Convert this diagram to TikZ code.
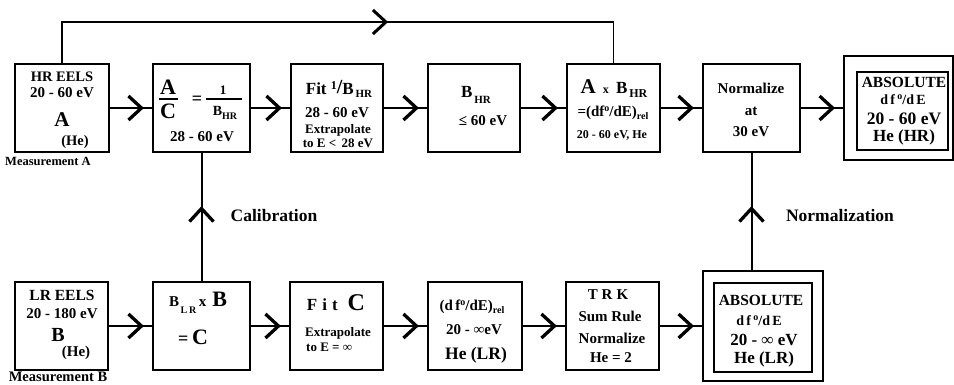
\documentclass[tikz,border=0pt]{standalone}
\usepackage{fontspec}
\setmainfont{Liberation Serif}
\usetikzlibrary{arrows.meta,decorations.markings}
\newcommand{\fsz}[1]{\fontsize{#1}{#1}\selectfont}
\tikzset{
  box/.style={draw, line width=2.2pt, inner sep=0pt},
  tx/.style={inner sep=0pt, font=\bfseries\fsz{#1}},
  tx/.default=15,
  conn/.style={line width=2pt, postaction={decorate, decoration={markings,
      mark=at position #1 with {\arrow{Straight Barb[length=13pt,width=24pt,line width=3.3pt]}}}}},
  conn/.default=-8pt,
  loopline/.style={line width=1.6pt, postaction={decorate, decoration={markings,
      mark=at position 367pt with {\arrow{Straight Barb[length=13pt,width=24pt,line width=3pt]}}}}},
  fracbar/.style={line width=#1},
}
\begin{document}
\begin{tikzpicture}[x=1pt,y=-1pt]
\useasboundingbox (0,0) rectangle (954,384);
% ---- top row boxes
\node[box, minimum width=94pt, minimum height=88pt] (n1) at (62,108) {};
\node[box, minimum width=97pt, minimum height=88pt] (n2) at (201.5,108) {};
\node[box, minimum width=92pt, minimum height=88pt] (n3) at (337,108) {};
\node[box, minimum width=92pt, minimum height=88pt] (n4) at (474,108) {};
\node[box, minimum width=93pt, minimum height=88pt] (n5) at (613.5,108) {};
\node[box, minimum width=97pt, minimum height=88pt] (n6) at (751.5,108) {};
\node[box, line width=2pt, minimum width=109pt, minimum height=104pt] (n7o) at (898.5,108) {};
\node[box, line width=2.5pt, minimum width=91pt, minimum height=78pt] (n7i) at (902.5,111) {};
% ---- bottom row boxes
\node[box, minimum width=93pt, minimum height=88pt] (m1) at (61.5,326) {};
\node[box, minimum width=97pt, minimum height=88pt] (m2) at (201.5,326) {};
\node[box, minimum width=93pt, minimum height=88pt] (m3) at (336.5,326) {};
\node[box, minimum width=94pt, minimum height=88pt] (m4) at (475,326) {};
\node[box, minimum width=93pt, minimum height=88pt] (m5) at (612.5,326) {};
\node[box, line width=2pt, minimum width=120pt, minimum height=110pt] (m6o) at (763,326) {};
\node[box, line width=2.5pt, minimum width=98pt, minimum height=89pt] (m6i) at (763,327.5) {};
% ---- connectors
\draw[conn] (n1) -- (n2);
\draw[conn] (n2) -- (n3);
\draw[conn] (n3) -- (n4);
\draw[conn] (n4) -- (n5);
\draw[conn] (n5) -- (n6);
\draw[conn] (n6) -- (n7o);
\draw[conn] (m1) -- (m2);
\draw[conn] (m2) -- (m3);
\draw[conn] (m3) -- (m4);
\draw[conn] (m4) -- (m5);
\draw[conn] (m5) -- (m6o);
\draw[conn=-53pt] (m2) -- (n2);
\draw[conn=-53pt] (n6 |- m6o.north) -- (n6.south);
\coordinate (tp) at (0,22);
\draw[loopline] (n1.north) -- (n1.north |- tp) -- (n5.north |- tp) -- (n5.north);
% ---- labels
\node[tx=17.5] (cal) at (274,216) {Calibration};
\node[tx=17.5] (nrm) at (840,216) {Normalization};
\node[tx=12.5] (mA) at (48,161) {Measurement A};
\node[tx=14.5] (mB) at (58,377) {Measurement B};
% n1
\node[tx=14.5] (n1a) at (62,77) {HR EELS};
\node[tx=15] (n1b) at (62,93) {20 - 60 eV};
\node[tx=21] (n1c) at (62,120) {A};
\node[tx=14.5] (n1d) at (75,142) {(He)};
% n2
\node[tx=22] (n2a) at (168,87) {A};
\node[tx=22] (n2b) at (168,111) {C};
\draw[fracbar=2.2pt] (159,99) -- (178,99);
\node[tx=18] (n2c) at (197,100) {=};
\node[tx=13] (n2d) at (223,90) {1};
\draw[fracbar=1.3pt] (206,99) -- (242,99);
\node[tx=14] (n2e) at (225,113) {B\raisebox{-4pt}{\fsz{10}HR}};
\node[tx=15] (n2f) at (202,137) {28 - 60 eV};
% n3
\node[tx=17] (n3a) at (339,89) {Fit \raisebox{5pt}{\fsz{12}1}\raisebox{1pt}{\fsz{20}/}B\raisebox{-3pt}{\fsz{11}\,HR}};
\node[tx=15] (n3b) at (337,112.5) {28 - 60 eV};
\node[tx=13] (n3c) at (338,130) {Extrapolate};
\node[tx=13] (n3d) at (338,143.5) {to E <\, 28 eV};
% n4
\node[tx=17] (n4a) at (476,95) {B\raisebox{-6pt}{\fsz{11}\,HR}};
\node[tx=15] (n4b) at (483,121) {≤ 60 eV};
% n5
\node[tx=17] (n5a) at (614,89) {{\fsz{21}A}\, {\fsz{12}x}\, B\raisebox{-4pt}{\fsz{12}\,HR}};
\node[tx=15] (n5b) at (613,113) {=(df\raisebox{5pt}{\fsz{10}o}/dE)\raisebox{-3pt}{\fsz{10}rel}};
\node[tx=12] (n5c) at (612,135) {20 - 60 eV, He};
% n6
\node[tx=15] (n6a) at (751,88) {Normalize};
\node[tx=15] (n6b) at (751,111) {at};
\node[tx=15] (n6c) at (751,132) {30 eV};
% n7
\node[tx=15.5] (n7a) at (904,82) {ABSOLUTE};
\node[tx=14] (n7b) at (903,100) {d\,f\,\raisebox{5pt}{\fsz{10}o}/d\,E};
\node[tx=17.5] (n7c) at (904,119) {20 - 60 eV};
\node[tx=17] (n7d) at (904,137.5) {He (HR)};
% m1
\node[tx=15.5] (m1a) at (62,295) {LR EELS};
\node[tx=15] (m1b) at (62,314) {20 - 180 eV};
\node[tx=20] (m1c) at (58,335) {B};
\node[tx=15] (m1d) at (76,353) {(He)};
% m2
\node[tx=15] (m2a) at (198,303) {B\raisebox{-7pt}{\fsz{10}\,L\,R}\,x\hspace{6pt}{\fsz{22}B}};
\node[tx=22] (m2b) at (193,337) {{\fsz{18}=}\,C};
% m3
\node[tx=17] (m3a) at (336,303) {F\hspace{5pt}i\hspace{5pt}t\hspace{10pt}{\fsz{24}C}};
\node[tx=13] (m3b) at (338,333) {Extrapolate};
\node[tx=13, anchor=west] (m3c) at (306,347) {to E = ∞};
% m4
\node[tx=15] (m4a) at (472,307) {(d\,f\raisebox{5pt}{\fsz{10}o}/dE)\raisebox{-3pt}{\fsz{10}rel}};
\node[tx=15] (m4b) at (474,330) {20 - ∞eV};
\node[tx=17.5] (m4c) at (476,355) {He (LR)};
% m5
\node[tx=15] (m5a) at (608,295) {T\hspace{4pt}R\hspace{4pt}K};
\node[tx=15] (m5b) at (610,316) {Sum Rule};
\node[tx=15] (m5c) at (612,338) {Normalize};
\node[tx=15] (m5d) at (611,358) {He = 2};
% m6
\node[tx=15.5] (m6a) at (761,300) {ABSOLUTE};
\node[tx=14] (m6b) at (759,321) {d\,f\,\raisebox{5pt}{\fsz{10}o}/d\,E};
\node[tx=17] (m6c) at (764,340) {20 - ∞ eV};
\node[tx=17] (m6d) at (764,359) {He (LR)};
\end{tikzpicture}
\end{document}
